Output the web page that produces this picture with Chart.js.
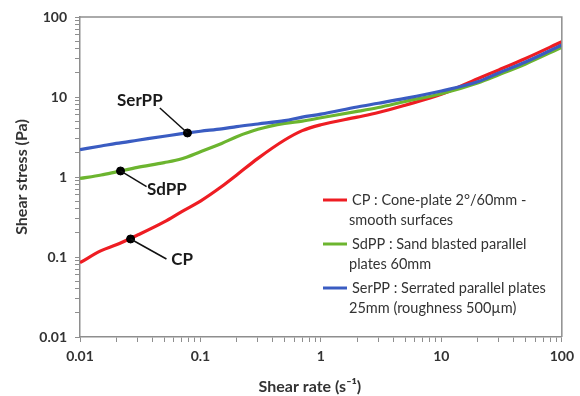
<!DOCTYPE html>
<html>
<head>
<meta charset="utf-8">
<script src="https://cdn.jsdelivr.net/npm/chart.js@4.4.1/dist/chart.umd.min.js"></script>
<style>
  html, body { margin: 0; padding: 0; background: #ffffff; }
  #wrap { width: 580px; height: 396px; position: relative; }
</style>
</head>
<body>
<div id="wrap"><canvas id="c"></canvas></div>
<script>
// Flow curves: shear stress (Pa) against shear rate (1/s) for three geometries
const shearRate = [0.01, 0.015, 0.02, 0.03, 0.05, 0.07, 0.1, 0.15, 0.2, 0.3, 0.5, 0.7, 1, 2, 3, 5, 10, 20, 30, 50, 100];
const stressCP    = [0.085, 0.12, 0.142, 0.188, 0.275, 0.37, 0.50, 0.76, 1.06, 1.71, 2.9, 3.8, 4.5, 5.6, 6.4, 7.9, 10.8, 16.9, 21.8, 30.3, 49];
const stressSdPP  = [0.96, 1.06, 1.16, 1.32, 1.51, 1.69, 2.07, 2.63, 3.19, 3.95, 4.69, 5.0, 5.5, 6.6, 7.4, 8.8, 11.0, 15.0, 19.0, 25.9, 41.8];
const stressSerPP = [2.2, 2.44, 2.63, 2.88, 3.23, 3.48, 3.73, 4.0, 4.26, 4.6, 5.06, 5.6, 6.1, 7.5, 8.35, 9.6, 11.9, 15.5, 20, 27.4, 44.7];

const seriesNames = ['CP', 'SdPP', 'SerPP'];
const legendLines = [
  ['CP : Cone-plate 2°/60mm -', 'smooth surfaces'],
  ['SdPP : Sand blasted parallel', 'plates 60mm'],
  ['SerPP : Serrated parallel plates', '25mm (roughness 500µm)']
];
const seriesColors = ['#ee1d23', '#6cb52f', '#3a5cc2'];

// Callout markers: point on the curve and where its name sits
const calloutX      = [0.0263, 0.0217, 0.078];
const calloutY      = [0.168, 1.19, 3.55];
const calloutEndX   = [0.0522, 0.0357, 0.046];
const calloutEndY   = [0.0944, 0.756, 7.29];
const calloutTextX  = [0.0706, 0.0526, 0.0314];
const calloutTextY  = [0.0917, 0.698, 9.04];

const decades = [0.01, 0.1, 1, 10, 100];
const tickMultipliers = [1, 2, 3, 4, 5, 6, 7, 8, 9];

const toPts = (ys) => shearRate.map((x, i) => ({ x: x, y: ys[i] }));

const AXIS_GREY = '#8e8e8e';
const TEXT = '#333333';

// every 1..9 x 10^n position between the first and last decade
function logTicks(scale) {
  const out = [];
  decades.forEach((d, k) => {
    if (k === decades.length - 1) { out.push({ value: d }); return; }
    tickMultipliers.forEach(m => out.push({ value: +(d * m).toPrecision(3) }));
  });
  scale.ticks = out;
}

function decadeLabel(value) {
  for (const t of decades) {
    if (Math.abs(Math.log10(value) - Math.log10(t)) < 1e-6) return String(t);
  }
  return '';
}

const frameAndNotes = {
  id: 'frameAndNotes',
  afterDatasetsDraw(chart) {
    const { ctx, chartArea: a, scales } = chart;
    const xs = scales.x, ys = scales.y;
    ctx.save();
    // top and right frame lines
    ctx.strokeStyle = AXIS_GREY;
    ctx.lineWidth = 1.5;
    ctx.beginPath();
    ctx.moveTo(a.left, a.top);
    ctx.lineTo(a.right, a.top);
    ctx.lineTo(a.right, a.bottom);
    ctx.stroke();

    // callout leaders and names
    ctx.strokeStyle = '#111';
    ctx.lineWidth = 1.5;
    ctx.fillStyle = '#1a1a1a';
    ctx.font = 'bold 17px Lato, "Open Sans", sans-serif';
    ctx.textAlign = 'center';
    ctx.textBaseline = 'middle';
    for (let i = 0; i < seriesNames.length; i++) {
      ctx.beginPath();
      ctx.moveTo(xs.getPixelForValue(calloutX[i]), ys.getPixelForValue(calloutY[i]));
      ctx.lineTo(xs.getPixelForValue(calloutEndX[i]), ys.getPixelForValue(calloutEndY[i]));
      ctx.stroke();
      ctx.fillText(seriesNames[i], xs.getPixelForValue(calloutTextX[i]), ys.getPixelForValue(calloutTextY[i]));
    }

    // legend block
    const lx = a.left + 243, ly = a.top + 183;
    ctx.font = '14.5px Lato, "Open Sans", sans-serif';
    ctx.textAlign = 'left';
    ctx.fillStyle = TEXT;
    for (let i = 0; i < legendLines.length; i++) {
      const y0 = ly + i * 44;
      ctx.strokeStyle = seriesColors[i];
      ctx.lineWidth = 3;
      ctx.beginPath();
      ctx.moveTo(lx, y0);
      ctx.lineTo(lx + 24, y0);
      ctx.stroke();
      ctx.fillText(legendLines[i][0], lx + 29, y0);
      ctx.fillText(legendLines[i][1], lx + 26, y0 + 20);
    }

    // x axis title
    ctx.font = 'bold 16px Lato, "Open Sans", sans-serif';
    ctx.textAlign = 'center';
    ctx.fillStyle = TEXT;
    ctx.fillText('Shear rate (s⁻¹)', (a.left + a.right) / 2 - 11, a.bottom + 50);
    ctx.restore();
  }
};

const datasets = [
  { label: 'SerPP', data: toPts(stressSerPP), borderColor: seriesColors[2], order: 1 },
  { label: 'SdPP', data: toPts(stressSdPP), borderColor: seriesColors[1], order: 2 },
  { label: 'CP', data: toPts(stressCP), borderColor: seriesColors[0], order: 3 }
].map(d => Object.assign(d, {
  borderWidth: 3.2, pointRadius: 0, fill: false,
  cubicInterpolationMode: 'monotone'
}));

datasets.push({
  type: 'scatter',
  label: 'markers',
  data: calloutX.map((x, i) => ({ x: x, y: calloutY[i] })),
  backgroundColor: '#000', borderColor: '#000',
  pointRadius: 4, showLine: false, order: 0
});

const axisCommon = {
  type: 'logarithmic', min: 0.01, max: 100,
  afterBuildTicks: logTicks,
  border: { display: true, color: AXIS_GREY, width: 1.5 },
  grid: { display: true, drawOnChartArea: false, drawTicks: true, tickLength: 5, color: AXIS_GREY, lineWidth: 1 }
};

new Chart(document.getElementById('c'), {
  type: 'line',
  data: { datasets },
  options: {
    responsive: true,
    maintainAspectRatio: false,
    animation: false,
    events: [],
    layout: { padding: { left: 0, right: 17, top: 17, bottom: 0 } },
    plugins: { legend: { display: false }, tooltip: { enabled: false } },
    scales: {
      x: Object.assign({}, axisCommon, {
        position: 'bottom',
        afterFit: s => { s.height = 59; },
        ticks: {
          autoSkip: false, maxRotation: 0, padding: 6, color: TEXT,
          font: { family: 'Lato', weight: 'bold', size: 14 },
          callback: decadeLabel
        },
        title: { display: false }
      }),
      y: Object.assign({}, axisCommon, {
        position: 'left',
        afterFit: s => { s.width = 80; },
        ticks: {
          autoSkip: false, padding: 8, color: TEXT,
          font: { family: 'Lato', weight: 'bold', size: 14 },
          callback: decadeLabel
        },
        title: {
          display: true, text: 'Shear stress (Pa)', color: TEXT,
          font: { family: 'Lato', weight: 'bold', size: 16 },
          padding: { top: 12, bottom: 0 }
        }
      })
    }
  },
  plugins: [frameAndNotes]
});
</script>
</body>
</html>
